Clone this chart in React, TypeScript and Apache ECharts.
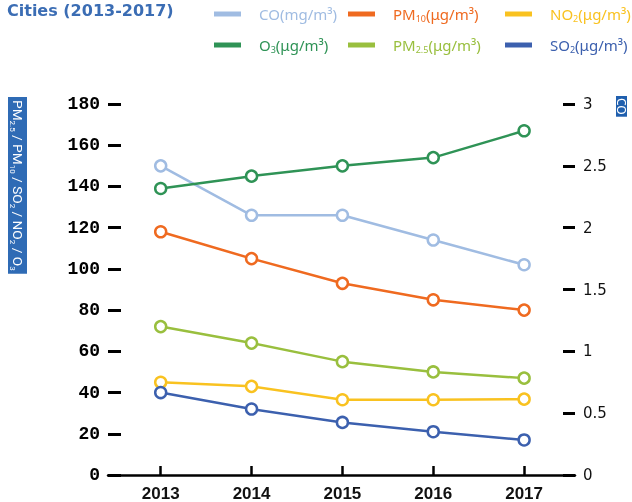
import React, { useEffect, useRef } from 'react';
import * as echarts from 'echarts';

const years = [2013, 2014, 2015, 2016, 2017];
const coValues = [2.5, 2.1, 2.1, 1.9, 1.7];
const o3Values = [139, 145, 150, 154, 167];
const pm10Values = [118, 105, 93, 85, 80];
const pm25Values = [72, 64, 55, 50, 47];
const no2Values = [45, 43, 36.5, 36.5, 36.8];
const so2Values = [40, 32, 25.5, 21, 17];

const seriesNames = ['CO', 'PM10', 'NO2', 'O3', 'PM2.5', 'SO2'];
const legendLabels: Record<string, string> = {
  CO: 'CO(mg/m³)',
  PM10: 'PM{sub|10}(μg/m³)',
  NO2: 'NO{sub|2}(μg/m³)',
  O3: 'O{sub|3}(μg/m³)',
  'PM2.5': 'PM{sub|2.5}(μg/m³)',
  SO2: 'SO{sub|2}(μg/m³)',
};
const colors: Record<string, string> = {
  CO: '#a0bce2',
  PM10: '#ef6a20',
  NO2: '#f9c220',
  O3: '#2f9356',
  'PM2.5': '#99bf3e',
  SO2: '#3c60ae',
};
const leftAxisName = 'PM{s|2.5} / PM{s|10} / SO{s|2} / NO{s|2} / O{s|3}';
const rightAxisName = 'CO';
const titleText = 'Cities (2013-2017)';

export default function App() {
  const ref = useRef<HTMLDivElement>(null);
  useEffect(() => {
    if (!ref.current) return;
    const chart = echarts.init(ref.current, undefined, { renderer: 'svg' });
    const mk = (vals: number[]) => years.map((y, i) => [y, vals[i]]);
    const valuesByName: Record<string, number[]> = {
      CO: coValues,
      PM10: pm10Values,
      NO2: no2Values,
      O3: o3Values,
      'PM2.5': pm25Values,
      SO2: so2Values,
    };
    const legendBase = (left: number, names: string[]) => ({
      left,
      top: 5,
      padding: 0,
      orient: 'vertical',
      itemWidth: 27,
      itemHeight: 5,
      itemGap: 13,
      icon: 'rect',
      data: names.map((n) => ({
        name: n,
        textStyle: { color: colors[n] },
        itemStyle: { color: colors[n], borderWidth: 0 },
      })),
      formatter: (n: string) => legendLabels[n],
      textStyle: {
        fontFamily: 'Noto Sans',
        fontSize: 15,
        lineHeight: 18,
        padding: [0, 0, 0, 13],
        rich: {
          sub: { fontSize: 9, lineHeight: 9, verticalAlign: 'bottom', fontFamily: 'Noto Sans' },
        },
      },
    });
    chart.setOption({
      animation: false,
      title: {
        text: titleText,
        left: 2,
        top: -3,
        textStyle: { fontFamily: 'DejaVu Sans', fontWeight: 'bold', fontSize: 16, color: '#3b6db4' },
      },
      legend: [
        legendBase(214, ['CO', 'O3']),
        legendBase(348, ['PM10', 'PM2.5']),
        legendBase(505, ['NO2', 'SO2']),
      ],
      grid: { left: 108, right: 57, top: 104, bottom: 24, containLabel: false },
      xAxis: {
        type: 'value',
        min: 2012.42,
        max: 2017.56,
        splitLine: { show: false },
        axisLine: { show: true, lineStyle: { color: '#000', width: 2.5 } },
        axisTick: { show: true, inside: true, length: 9, customValues: years, lineStyle: { color: '#000', width: 2.5 } },
        axisLabel: {
          customValues: years,
          formatter: (v: number) => String(v),
          fontFamily: 'Liberation Sans',
          fontWeight: 'bold',
          fontSize: 17,
          color: '#111',
          margin: 10,
        },
      },
      yAxis: [
        {
          type: 'value',
          min: 0,
          max: 180,
          interval: 20,
          splitLine: { show: false },
          axisLine: { show: false },
          axisTick: { show: true, inside: true, length: 13, lineStyle: { color: '#000', width: 3 } },
          axisLabel: { fontFamily: 'Liberation Mono', fontWeight: 'bold', fontSize: 18, color: '#000', margin: 8 },
        },
        {
          type: 'value',
          min: 0,
          max: 3,
          interval: 0.5,
          position: 'right',
          splitLine: { show: false },
          axisLine: { show: false },
          axisTick: { show: true, inside: true, length: 12, lineStyle: { color: '#000', width: 3 } },
          axisLabel: { fontFamily: 'DejaVu Sans', fontSize: 15, color: '#111', margin: 8 },
        },
      ],
      graphic: [
        {
          type: 'text',
          x: 8,
          y: 97,
          rotation: -Math.PI / 2,
          style: {
            text: leftAxisName,
            fill: '#fff',
            fontFamily: 'Roboto',
            fontSize: 13.7,
            lineHeight: 19,
            align: 'left',
            verticalAlign: 'bottom',
            backgroundColor: '#2f6bb5',
            padding: [0, 3, 0, 3],
            rich: {
              s: { fontSize: 8, lineHeight: 8, verticalAlign: 'bottom', fill: '#fff', fontFamily: 'Roboto' },
            },
          },
        },
        {
          type: 'text',
          x: 616,
          y: 96,
          rotation: -Math.PI / 2,
          style: {
            text: rightAxisName,
            fill: '#fff',
            fontFamily: 'Noto Sans',
            fontSize: 12,
            lineHeight: 11,
            align: 'left',
            verticalAlign: 'bottom',
            backgroundColor: '#1f5fae',
            padding: [0, 2, 0, 2],
          },
        },
      ],
      series: seriesNames.map((n) => ({
        name: n,
        type: 'line',
        yAxisIndex: n === 'CO' ? 1 : 0,
        data: mk(valuesByName[n]),
        symbol: 'circle',
        symbolSize: 11,
        showSymbol: true,
        color: colors[n],
        lineStyle: { width: 2.5, color: colors[n] },
        itemStyle: { color: '#fff', borderColor: colors[n], borderWidth: 2.5 },
        z: n === 'CO' ? 1 : 2,
      })),
    });
    return () => chart.dispose();
  }, []);
  return (
    <div
      ref={ref}
      style={{ position: 'fixed', left: 0, top: 0, width: 632, height: 502 }}
    />
  );
}
